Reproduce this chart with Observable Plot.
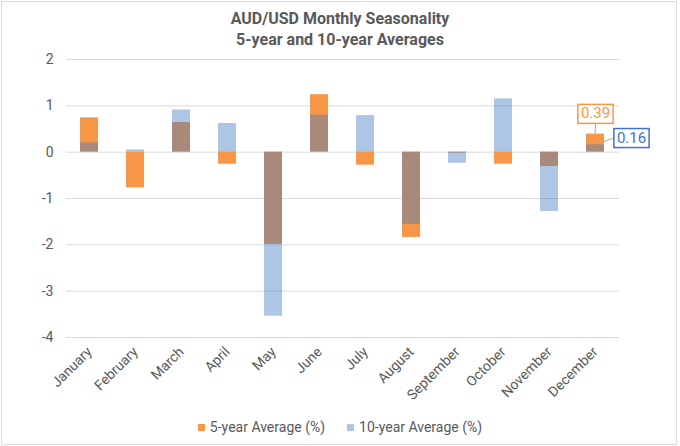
<!DOCTYPE html>
<html>
<head>
<meta charset="utf-8">
<script src="https://cdn.jsdelivr.net/npm/d3@7"></script>
<script src="https://cdn.jsdelivr.net/npm/@observablehq/plot@0.6"></script>
<style>
  html, body { margin: 0; padding: 0; background: #fff; }
  #frame { position: absolute; left: 1px; top: 1px; width: 676px; height: 444px; box-sizing: border-box; border: 1px solid #dcdcdc; }
  #title { position: absolute; left: 0; top: 8px; width: 680px; text-align: center; font: bold 16px Roboto, sans-serif; line-height: 21px; color: #595959; }
  #chart { position: absolute; left: 0; top: 50px; }
  #legend { position: absolute; left: 0; top: 419px; width: 680px; text-align: center; font: 14px Roboto, sans-serif; color: #595959; }
  #legend span.item { display: inline-block; margin: 0 11px; }
  #legend span.sw { display: inline-block; width: 7px; height: 7px; margin-right: 5px; vertical-align: 1px; }
</style>
</head>
<body>
<div id="frame"></div>
<div id="title">AUD/USD Monthly Seasonality<br>5-year and 10-year Averages</div>
<div id="chart"></div>
<div id="legend"></div>
<script>
const months = ["January","February","March","April","May","June","July","August","September","October","November","December"];
const fiveYear = [0.74, -0.77, 0.64, -0.26, -1.99, 1.24, -0.28, -1.84, -0.02, -0.26, -0.31, 0.39];
const tenYear  = [0.20, 0.05, 0.91, 0.62, -3.54, 0.80, 0.79, -1.56, -0.24, 1.15, -1.28, 0.16];
const yTicks = [-4, -3, -2, -1, 0, 1, 2];
const seriesNames = ["5-year Average (%)", "10-year Average (%)"];

const orange = "#F79646";
const blueBar = "#3C77C3";
const blueOpacity = 0.42;
const blueLabel = "#4472C4";

const five = months.map((m, i) => ({month: m, value: fiveYear[i]}));
const ten = months.map((m, i) => ({month: m, value: tenYear[i]}));
const last = months.length - 1;
const labels = [
  {month: months[last], value: fiveYear[last], color: orange},
  {month: months[last], value: tenYear[last], color: blueLabel}
];

const chart = Plot.plot({
  width: 680,
  height: 360,
  marginLeft: 66,
  marginRight: 61,
  marginTop: 9,
  marginBottom: 73,
  style: {fontFamily: "Roboto, sans-serif", color: "#595959", background: "transparent"},
  x: {domain: months, paddingInner: 0.6, paddingOuter: 0.3, label: null},
  y: {domain: [-4, 2], label: null},
  marks: [
    Plot.ruleY(yTicks, {stroke: "#d9d9d9", strokeWidth: 1}),
    Plot.barY(five, {x: "month", y: "value", fill: orange}),
    Plot.barY(ten, {x: "month", y: "value", fill: blueBar, fillOpacity: blueOpacity}),
    Plot.axisY(yTicks, {tickSize: 0, tickPadding: 13, fontSize: 14, fill: "#595959", tickFormat: d => String(d), label: null}),
    Plot.axisX({tickRotate: -45, tickSize: 0, tickPadding: 12, fontSize: 14, fill: "#595959", label: null}),
    Plot.text([labels[0]], {x: "month", y: "value", text: d => d.value.toFixed(2), fill: orange, dy: -20.5, fontSize: 15}),
    Plot.text([labels[1]], {x: "month", y: "value", text: d => d.value.toFixed(2), fill: blueLabel, dx: 36, dy: -7, fontSize: 15})
  ]
});
document.getElementById("chart").appendChild(chart);

// Label boxes and leader lines, positioned from the rendered text and the chart's scales
const svg = d3.select(chart);
const xs = chart.scale("x"), ys = chart.scale("y");
const bw = xs.bandwidth;
const sr = chart.getBoundingClientRect();
const textGroups = svg.selectAll("g[aria-label='text']").nodes();
textGroups.forEach((gNode, i) => {
  const t = gNode.querySelector("text");
  if (!t || !labels[i]) return;
  const r = t.getBoundingClientRect();
  const x0 = r.left - sr.left - 3, y0 = r.top - sr.top, w = r.width + 6, h = r.height + 1;
  const d = labels[i];
  const cx = xs.apply(d.month) + bw / 2;
  const cy = ys.apply(d.value);
  const layer = d3.create("svg:g");
  chart.insertBefore(layer.node(), gNode);
  if (i === 0) {
    layer.append("line").attr("x1", cx).attr("y1", cy).attr("x2", x0 + w / 2).attr("y2", y0 + h)
      .attr("stroke", "#a6a6a6").attr("stroke-width", 1);
  } else {
    layer.append("line").attr("x1", cx + bw / 2 - 2).attr("y1", cy - 2).attr("x2", x0).attr("y2", y0 + h / 2)
      .attr("stroke", "#a6a6a6").attr("stroke-width", 1);
  }
  layer.append("rect").attr("x", x0).attr("y", y0).attr("width", w).attr("height", h)
    .attr("fill", "#fff").attr("stroke", d.color).attr("stroke-width", 1.5);
});

// Legend
const legendColors = [orange, d3.interpolateRgb("#ffffff", blueBar)(blueOpacity)];
const legend = d3.select("#legend");
seriesNames.forEach((name, i) => {
  const item = legend.append("span").attr("class", "item");
  item.append("span").attr("class", "sw").style("background", legendColors[i]);
  item.append("span").text(name);
});
</script>
</body>
</html>
